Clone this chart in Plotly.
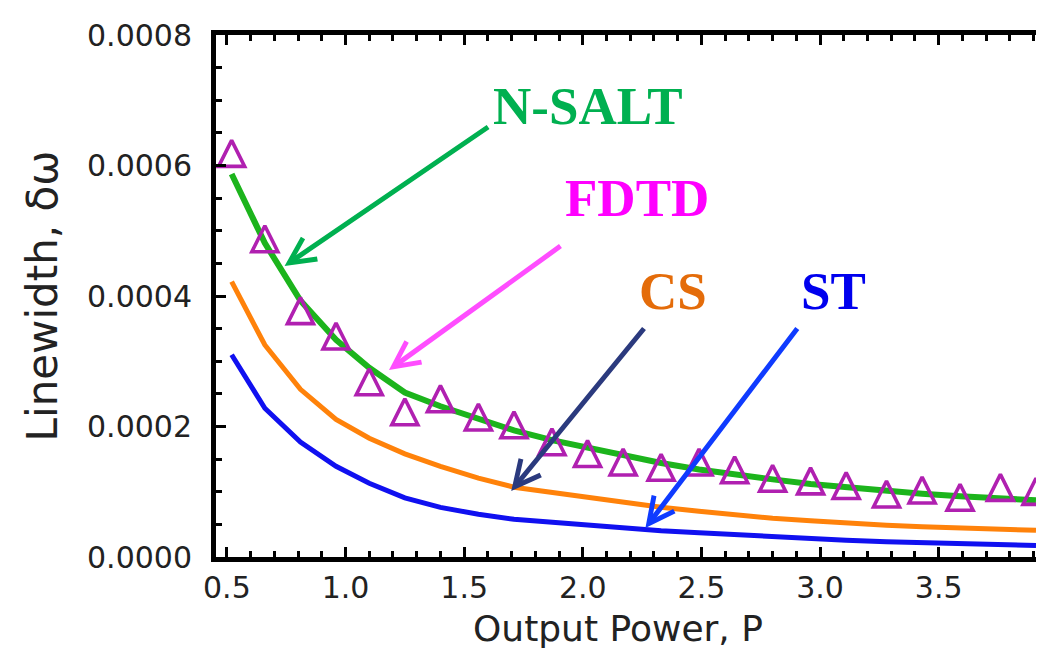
import plotly.graph_objects as go

# ---------------- data ----------------
power = [0.52, 0.66, 0.81, 0.96, 1.10, 1.25, 1.40, 1.56, 1.71, 1.87, 2.02, 2.17,
         2.33, 2.49, 2.64, 2.80, 2.96, 3.11, 3.28, 3.43, 3.59, 3.76, 3.91]

nsalt = [0.000587, 0.000481, 0.000393, 0.000333, 0.000290, 0.000252, 0.000231,
         0.000211, 0.000194, 0.000179, 0.000167, 0.000155, 0.000144, 0.000134,
         0.000126, 0.000119, 0.000112, 0.000107, 0.000101, 0.000097, 0.000093,
         0.000090, 0.000087]

fdtd = [0.000612, 0.000481, 0.000371, 0.000332, 0.000262, 0.000216, 0.000236,
        0.000208, 0.000196, 0.000170, 0.000152, 0.000139, 0.000131, 0.000139,
        0.000127, 0.000114, 0.000110, 0.000103, 0.000090, 0.000096, 0.000085,
        0.000100, 0.000094]

cs = [0.000422, 0.000325, 0.000257, 0.000211, 0.000182, 0.000158, 0.000139,
      0.000121, 0.000107, 0.000099, 0.0000914, 0.0000838, 0.0000761, 0.0000700,
      0.0000639, 0.0000593, 0.0000555, 0.0000517, 0.0000486, 0.0000463,
      0.0000440, 0.0000425, 0.0000410]

st = [0.000310, 0.000228, 0.000176, 0.000139, 0.000113, 0.0000907, 0.0000761,
      0.0000654, 0.0000578, 0.0000532, 0.0000479, 0.0000440, 0.0000402,
      0.0000372, 0.0000341, 0.0000310, 0.0000272, 0.0000257, 0.0000234,
      0.0000219, 0.0000203, 0.0000188, 0.0000176]

labels = ["N-SALT", "FDTD", "CS", "ST"]
x_title = "Output Power, P"
y_title = "Linewidth, δω"

# ---------------- layout geometry ----------------
W, H = 1044, 649
L, R, T, B = 208, 0, 27, 100
PW, PH = W - L - R, H - T - B


def paper(px, py):
    return (px - L) / PW, (H - B - py) / PH


fig = go.Figure()

fig.add_trace(go.Scatter(x=power, y=st, mode="lines", name=labels[3],
                         line=dict(color="#1010F0", width=5)))
fig.add_trace(go.Scatter(x=power, y=cs, mode="lines", name=labels[2],
                         line=dict(color="#FF820A", width=5)))
fig.add_trace(go.Scatter(x=power, y=nsalt, mode="lines", name=labels[0],
                         line=dict(color="#1CB41C", width=6)))
msize = 26
fig.add_trace(go.Scatter(x=power, y=fdtd, mode="markers", name=labels[1],
                         marker=dict(symbol="arrow-down-open", angle=180,
                                     standoff=msize / 2 * 4 / 3, size=msize,
                                     color="#B020B0",
                                     line=dict(color="#B020B0", width=3.6))))

tick_font = dict(family="DejaVu Sans", size=30, color="#222222")
title_font = dict(family="DejaVu Sans", size=42, color="#222222")

axis_common = dict(showline=True, linecolor="black", linewidth=5, mirror="ticks",
                   ticks="inside", ticklen=10, tickwidth=3, tickcolor="black",
                   showgrid=False, zeroline=False, tickfont=tick_font)

fig.update_xaxes(range=[0.4541, 3.9564], tickmode="linear", tick0=0.5, dtick=0.5,
                 tickformat=".1f", ticklabelstandoff=0,
                 minor=dict(dtick=0.1, ticks="inside", ticklen=6, tickwidth=3,
                            tickcolor="black", showgrid=False),
                 **axis_common)
fig.update_yaxes(range=[0, 0.0008], tickmode="linear", tick0=0, dtick=0.0002,
                 tickformat=".4f", ticklabelstandoff=13,
                 minor=dict(dtick=0.00005, ticks="inside", ticklen=6, tickwidth=3,
                            tickcolor="black", showgrid=False),
                 title=dict(text=y_title, font=title_font, standoff=18),
                 **axis_common)

# x-axis title placed as an annotation so it sits where the reference has it
xt, yt = paper(612, 642)
fig.add_annotation(x=xt, y=yt, xref="paper", yref="paper", text=x_title,
                   showarrow=False, xanchor="center", yanchor="bottom",
                   borderpad=0,
                   font=dict(family="DejaVu Sans", size=36, color="#222222"))

# ---------------- annotations (labels and arrows) ----------------
label_font = "Liberation Serif, Times New Roman, serif"
texts = [
    (labels[0], 582, 98, "#00B050"),
    (labels[1], 632, 190, "#FF00FF"),
    (labels[2], 668, 283, "#E46C0A"),
    (labels[3], 829, 283, "#0000EE"),
]
for txt, px, py, col in texts:
    xp, yp = paper(px, py)
    fig.add_annotation(x=xp, y=yp, xref="paper", yref="paper", text=txt,
                       showarrow=False, xanchor="center", yanchor="middle",
                       font=dict(family=label_font, size=53, color=col,
                                 weight="bold"))

arrows = [
    # tail px, tail py, head px, head py, colour
    (482, 118, 277, 258, "#00B050"),
    (555, 237, 382, 362, "#FF4DFF"),
    (639, 319, 505, 483, "#2B3A7E"),
    (793, 319, 640, 520, "#0F3BFF"),
]
for tx, ty, hx, hy, col in arrows:
    xp, yp = paper(hx, hy)
    fig.add_annotation(x=xp, y=yp, xref="paper", yref="paper", text="",
                       showarrow=True, ax=tx - hx, ay=ty - hy,
                       arrowhead=5, arrowsize=1.0, arrowwidth=5,
                       arrowcolor=col, standoff=0)

fig.update_layout(width=W, height=H, showlegend=False,
                  margin=dict(l=L, r=R, t=T, b=B, pad=0),
                  plot_bgcolor="white", paper_bgcolor="white")

fig.write_html("out.html")
